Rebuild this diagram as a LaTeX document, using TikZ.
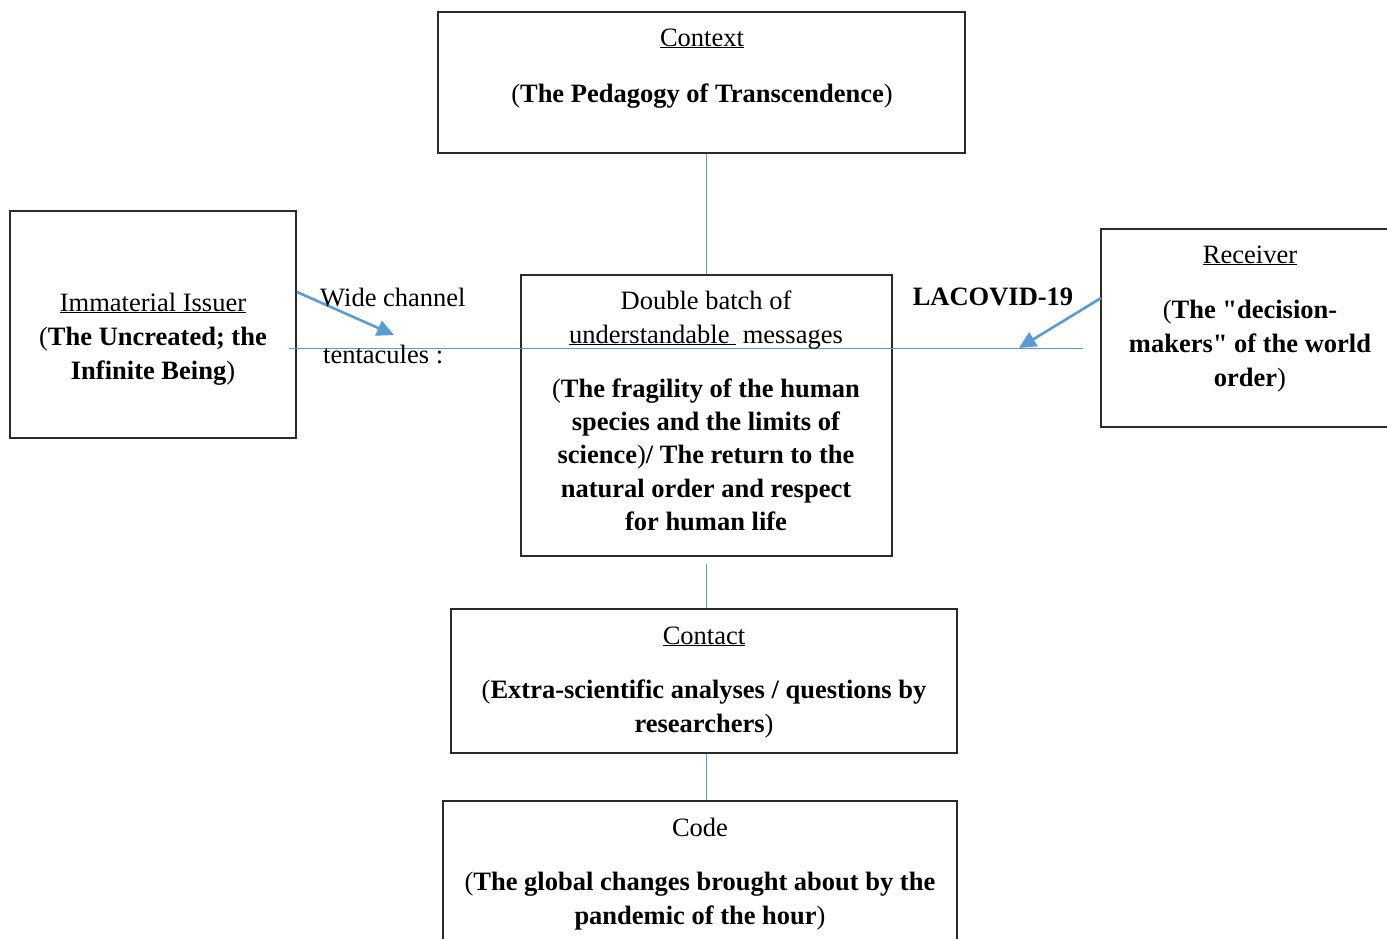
\documentclass[tikz,border=0pt]{standalone}
\usepackage{fontspec}
\setmainfont{Liberation Serif}
\newfontfamily\plainquote{Liberation Serif}
\usetikzlibrary{arrows.meta}
\definecolor{lineblue}{HTML}{5B9BD5}
\definecolor{boxgray}{HTML}{2B2B2B}
\newcommand{\sq}{{\plainquote\bfseries\char34}}
\begin{document}
\begin{tikzpicture}[x=1pt,y=-1pt,
  box/.style={draw=boxgray,line width=1.3pt,minimum width=#1,inner sep=0pt},
  conn/.style={draw=lineblue,line width=1pt},
  arr/.style={draw=lineblue,line width=2.6pt,-{Triangle[length=17pt,width=16pt]}},
  txt/.style={anchor=base,inner sep=0pt,font=\fontsize{26.5}{33.5}\selectfont}]
\useasboundingbox (0,0) rectangle (1387,938);
% boxes
\node[box=527pt,minimum height=141pt] (ctx) at (701.5,82.5) {};
\node[box=286pt,minimum height=227pt] (iss) at (153,324.5) {};
\node[box=371pt,minimum height=281pt] (ctr) at (706.5,415.5) {};
\node[box=294pt,minimum height=198pt] (rec) at (1248,328) {};
\node[box=506pt,minimum height=144pt] (cont) at (704,681) {};
\node[box=514pt,minimum height=146pt] (code) at (700,874) {};
% connectors
\draw[conn] (ctr.north |- ctx.south) -- (ctr.north);
\draw[conn] ([yshift=-7pt]ctr.south) -- (ctr.south |- cont.north);
\draw[conn] (ctr.south |- cont.south) -- (ctr.south |- code.north);
\coordinate (hl) at (289,348);
\coordinate (hr) at (1083,348);
\draw[conn] (hl) -- (hr);
\coordinate (a1s) at (297,292);
\coordinate (a1e) at (394,335);
\coordinate (a2s) at (1101,298);
\coordinate (a2e) at (1019,348);
\draw[arr] (a1s) -- (a1e);
\draw[arr] (a2s) -- (a2e);
% texts
\node[txt] (t1) at (702,46) {\underline{Context}};
\node[txt] (t2) at (702,102) {(\textbf{The Pedagogy of Transcendence})};
\node[txt] (t3) at (153,311) {\underline{Immaterial Issuer}};
\node[txt] (t4) at (153,345) {(\textbf{The Uncreated; the}};
\node[txt] (t5) at (153,379) {\textbf{Infinite Being})};
\node[txt,anchor=base west] (t6) at (320,306) {Wide channel};
\node[txt,anchor=base west] (t7) at (323,363) {tentacules :};
\node[txt] (t8) at (706,309) {Double batch of};
\node[txt] (t9) at (706,343) {\underline{understandable\ } messages};
\node[txt] (t10) at (706,397) {(\textbf{The fragility of the human}};
\node[txt] (t11) at (706,430) {\textbf{species and the limits of}};
\node[txt] (t12) at (706,463) {\textbf{science})\textbf{/ The return to the}};
\node[txt] (t13) at (706,497) {\textbf{natural order and respect}};
\node[txt] (t14) at (706,530) {\textbf{for human life}};
\node[txt] (t15) at (993,305) {\textbf{LACOVID-19}};
\node[txt] (t16) at (1250,263) {\underline{Receiver}};
\node[txt] (t17) at (1250,318) {(\textbf{The \sq decision-}};
\node[txt] (t18) at (1250,352) {\textbf{makers\sq{} of the world}};
\node[txt] (t19) at (1250,386) {\textbf{order})};
\node[txt] (t20) at (704,644) {\underline{Contact}};
\node[txt] (t21) at (704,698) {(\textbf{Extra-scientific analyses / questions by}};
\node[txt] (t22) at (704,732) {\textbf{researchers})};
\node[txt] (t23) at (700,836) {Code};
\node[txt] (t24) at (700,890) {(\textbf{The global changes brought about by the}};
\node[txt] (t25) at (700,924) {\textbf{pandemic of the hour})};
\end{tikzpicture}
\end{document}
